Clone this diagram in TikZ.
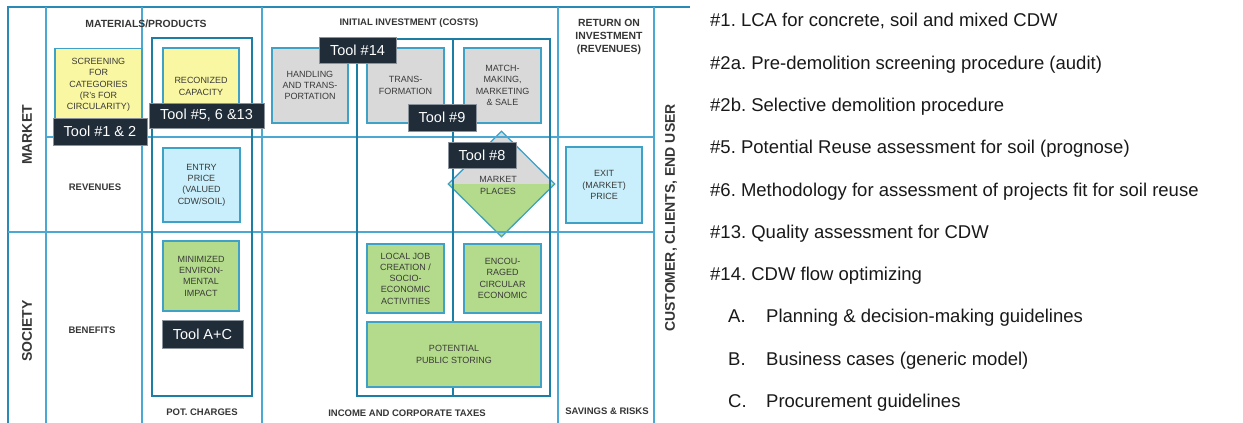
\documentclass[tikz,border=0pt]{standalone}
\usepackage{fontspec}
\setmainfont{Liberation Sans}
\usetikzlibrary{shapes.geometric}
\frenchspacing
\definecolor{gridc}{HTML}{4AA8D2}
\definecolor{edgec}{HTML}{2A8AB5}
\definecolor{framec}{HTML}{1C7DA5}
\definecolor{boxc}{HTML}{3FA1C6}
\definecolor{yellowc}{HTML}{FAF7A2}
\definecolor{grayc}{HTML}{D9D9D9}
\definecolor{bluec}{HTML}{C8EFFB}
\definecolor{greenc}{HTML}{B4DB8B}
\definecolor{toolc}{HTML}{202D39}
\definecolor{toolline}{HTML}{8A939B}
\definecolor{boxtext}{HTML}{3A3A3A}
\definecolor{headc}{HTML}{363636}
\begin{document}
\begin{tikzpicture}[x=1pt,y=-1pt,
  gridline/.style={draw=gridc, line width=1.4pt},
  frameline/.style={draw=framec, line width=2pt},
  cell/.style={draw=boxc, line width=1.3pt, inner sep=0pt, align=center,
    text=boxtext, font=\fontsize{9}{11.3}\selectfont},
  toolbox/.style={fill=toolc, draw=toolline, line width=0.6pt, text=white,
    font=\fontsize{14.5}{16}\selectfont, inner sep=0pt},
  head/.style={font=\fontsize{9.5}{13}\selectfont\bfseries, text=headc,
    align=center, inner sep=0pt},
  bighead/.style={head, font=\fontsize{10.4}{13}\selectfont\bfseries},
  side/.style={font=\fontsize{14}{16}\selectfont\bfseries, text=headc,
    rotate=90, inner sep=0pt},
  item/.style={font=\fontsize{18.5}{22}\selectfont, anchor=base west,
    inner sep=0pt, text=black!90}
]
\useasboundingbox (0,0) rectangle (1243,423);
\fill[white] (0,0) rectangle (1243,423);

% market place diamond, grey above and green below its middle
\node[diamond, draw=boxc, line width=1.3pt, minimum width=107pt,
  minimum height=106pt, inner sep=0pt, fill=greenc,
  path picture={\fill[grayc] (path picture bounding box.north west)
    rectangle (path picture bounding box.east);}] (mkt) at (501.5,184) {};
\node[cell, draw=none] (mkttext) at (498,185.5)
  {\fontsize{9}{15}\selectfont MARKET\\PLACES};

% canvas grid
\draw[draw=edgec, line width=1.5pt] (8,423) -- (8,7) -- (690,7);
\draw[gridline] (46,7) -- (46,423);
\draw[gridline] (142,7) -- (142,423);
\draw[gridline] (262,7) -- (262,423);
\draw[gridline] (558,7) -- (558,423);
\draw[gridline] (654,7) -- (654,423);
\draw[gridline] (46,137) -- (654,137);
\draw[gridline] (8,232) -- (654,232);

% tool frames
\draw[frameline] (152,38) rectangle (252,396);
\draw[frameline] (357,39) rectangle (550,396);
\draw[frameline] (453,39) -- (453,396);

% headings
\node[bighead] (hmat) at (146,24) {MATERIALS/PRODUCTS};
\node[head] (hinv) at (409,23) {INITIAL INVESTMENT (COSTS)};
\node[bighead] (hret) at (609,37) {RETURN ON\\INVESTMENT\\(REVENUES)};
\node[head] (hrev) at (95,187) {REVENUES};
\node[head] (hben) at (92,330) {BENEFITS};
\node[head] (hpot) at (202,412) {POT. CHARGES};
\node[head] (hinc) at (407,413) {INCOME AND CORPORATE TAXES};
\node[head] (hsav) at (607,411) {SAVINGS \& RISKS};
\node[side] (smarket) at (27,135) {MARKET};
\node[side] (ssociety) at (27,331) {SOCIETY};
\node[side] (scust) at (671,218) {CUSTOMER, CLIENTS, END USER};

% canvas cells
\node[cell, fill=yellowc, minimum width=87pt, minimum height=73pt] (scr)
  at (98.5,85) {SCREENING\\FOR\\CATEGORIES\\(R's FOR\\CIRCULARITY)};
\node[cell, fill=yellowc, minimum width=76pt, minimum height=77pt] (rec)
  at (201,86.5) {RECONIZED\\CAPACITY};
\node[cell, fill=bluec, minimum width=77pt, minimum height=74pt] (entry)
  at (201.5,185) {ENTRY\\PRICE\\(VALUED\\CDW/SOIL)};
\node[cell, fill=greenc, minimum width=76pt, minimum height=70pt] (envimp)
  at (201,276) {MINIMIZED\\ENVIRON-\\MENTAL\\IMPACT};
\node[cell, fill=grayc, minimum width=76pt, minimum height=75pt] (hand)
  at (310,85.5) {HANDLING\\AND TRANS-\\PORTATION};
\node[cell, fill=grayc, minimum width=77pt, minimum height=75pt] (trans)
  at (405.5,85.5) {TRANS-\\FORMATION};
\node[cell, fill=grayc, minimum width=77pt, minimum height=75pt] (match)
  at (502.5,85.5) {MATCH-\\MAKING,\\MARKETING\\\& SALE};
\node[cell, fill=bluec, minimum width=76pt, minimum height=76pt] (exit)
  at (604,185) {EXIT\\(MARKET)\\PRICE};
\node[cell, fill=greenc, minimum width=77pt, minimum height=69pt] (job)
  at (405.5,278.5) {LOCAL JOB\\CREATION /\\SOCIO-\\ECONOMIC\\ACTIVITIES};
\node[cell, fill=greenc, minimum width=77pt, minimum height=69pt] (enc)
  at (502.5,278.5) {ENCOU-\\RAGED\\CIRCULAR\\ECONOMIC};
\node[cell, fill=greenc, minimum width=174pt, minimum height=65pt] (pub)
  at (454,354.5) {POTENTIAL\\PUBLIC STORING};

% tool tags
\node[toolbox, minimum width=94pt, minimum height=27pt] (t12)
  at (100,131.5) {Tool \#1 \& 2};
\node[toolbox, minimum width=115pt, minimum height=25pt] (t5613)
  at (206.5,115.5) {Tool \#5, 6 \&13};
\node[toolbox, minimum width=77pt, minimum height=26pt] (t14)
  at (357.5,50) {Tool \#14};
\node[toolbox, minimum width=68pt, minimum height=27pt] (t9)
  at (442,117.5) {Tool \#9};
\node[toolbox, minimum width=68pt, minimum height=26pt] (t8)
  at (482,155) {Tool \#8};
\node[toolbox, minimum width=81pt, minimum height=28pt] (tac)
  at (202.5,334) {Tool A+C};

% list of tools
\node[item] (l1) at (710,26.8) {\#1. LCA for concrete, soil and mixed CDW};
\node[item] (l2) at (710,69.1) {\#2a. Pre-demolition screening procedure (audit)};
\node[item] (l3) at (710,111.4) {\#2b. Selective demolition procedure};
\node[item] (l4) at (710,153.7) {\#5. Potential Reuse assessment for soil (prognose)};
\node[item] (l5) at (710,196) {\#6. Methodology for assessment of projects fit for soil reuse};
\node[item] (l6) at (710,238.3) {\#13. Quality assessment for CDW};
\node[item] (l7) at (710,280.6) {\#14. CDW flow optimizing};
\node[item] (la) at (728,322.9) {A.};
\node[item] (lat) at (766,322.9) {Planning \& decision-making guidelines};
\node[item] (lb) at (728,365.2) {B.};
\node[item] (lbt) at (766,365.2) {Business cases (generic model)};
\node[item] (lc) at (728,407.5) {C.};
\node[item] (lct) at (766,407.5) {Procurement guidelines};
\end{tikzpicture}
\end{document}
